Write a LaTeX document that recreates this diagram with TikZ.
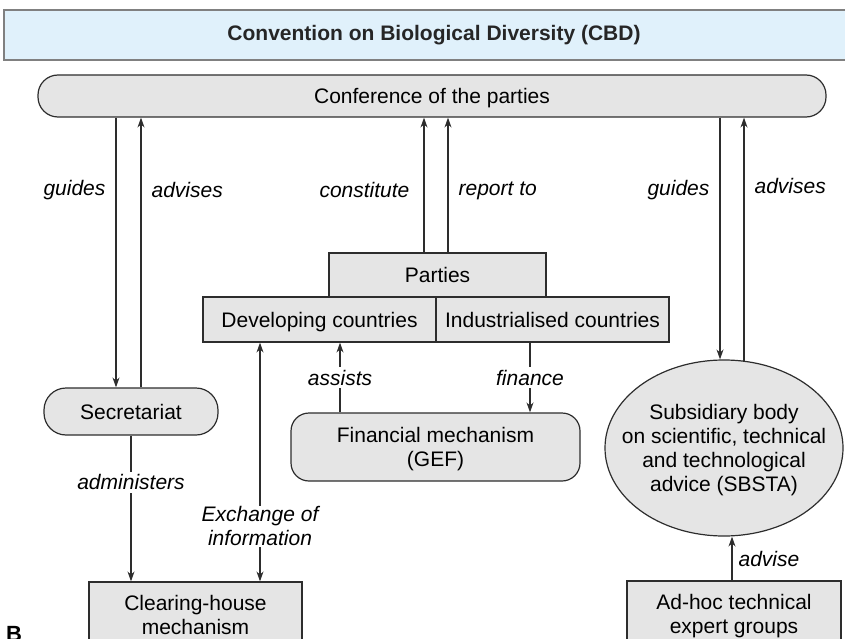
\documentclass[tikz,border=0pt]{standalone}
\usepackage{fontspec}
\setmainfont{Liberation Sans}
\usetikzlibrary{arrows.meta, shapes.geometric, positioning}
\definecolor{cbdblue}{RGB}{224, 241, 251}
\definecolor{boxgray}{RGB}{229, 229, 229}
\definecolor{edgegray}{RGB}{45, 45, 45}

\begin{document}
\begin{tikzpicture}[x=1pt, y=-1pt,
    body/.style={draw=edgegray, fill=boxgray, line width=1.2pt, align=center,
                 font=\fontsize{21}{24}\selectfont, inner sep=0pt, text depth=0pt},
    rbody/.style={body, rounded corners=20pt},
    link/.style={-{Stealth[length=10pt, width=7pt]}, line width=1.2pt, draw=edgegray},
    verb/.style={font=\fontsize{21}{24}\selectfont\itshape, inner sep=10pt},
    gapverb/.style={verb, fill=white, inner sep=3pt}]
  \useasboundingbox (0,0) rectangle (845,639);
  \clip (0,0) rectangle (845,639);

  % title bar and conference
  \node[draw=gray, fill=cbdblue, line width=1.2pt, minimum width=860pt, minimum height=50pt,
        text=black!85, font=\fontsize{21}{24}\selectfont\bfseries] (cbd) at (434,35)
        {Convention on Biological Diversity (CBD)};
  \node[rbody, minimum width=788pt, minimum height=42pt] (cop) at (432,96)
        {Conference of the parties};

  % parties
  \node[body, minimum width=217pt, minimum height=44pt] (parties) at (437.5,275) {Parties};
  \node[body, minimum width=233pt, minimum height=45pt] (dev) at (319.5,319.5)
        {Developing countries};
  \node[body, minimum width=233pt, minimum height=45pt] (ind) at (552.5,319.5)
        {Industrialised countries};

  % bodies below
  \node[rbody, minimum width=174pt, minimum height=47pt, rounded corners=22pt] (sec)
        at (131,411.5) {Secretariat};
  \node[rbody, minimum width=289pt, minimum height=68pt, rounded corners=18pt] (fin)
        at (435.5,447) {Financial mechanism\\(GEF)};
  \node[body, ellipse, inner xsep=-30pt, minimum width=238pt, minimum height=176pt] (sbsta)
        at (724,448)
        {Subsidiary body\\on scientific, technical\\and technological\\advice (SBSTA)};
  \node[body, minimum width=213pt, minimum height=66pt] (chm) at (195.5,615)
        {Clearing-house\\mechanism};
  \node[body, minimum width=214pt, minimum height=66pt] (adhoc) at (734,614)
        {Ad-hoc technical\\expert groups};
  \node[font=\fontsize{22}{24}\selectfont\bfseries, inner sep=0pt, anchor=base west]
        (panel) at (6,641) {B};

  % conference links
  \draw[link] ([xshift=-15pt]sec.north |- cop.south) --
        node[verb, left, pos=0.27] {guides} ([xshift=-15pt]sec.north);
  \draw[link] ([xshift=10pt]sec.north) --
        node[verb, right, pos=0.73] {advises} ([xshift=10pt]sec.north |- cop.south);
  \draw[link] ([xshift=-13.5pt]parties.north) --
        node[verb, left, pos=0.46, inner sep=14pt] {constitute}
        ([xshift=-13.5pt]parties.north |- cop.south);
  \draw[link] ([xshift=10.5pt]parties.north) --
        node[verb, right, pos=0.46] {report to} ([xshift=10.5pt]parties.north |- cop.south);
  \draw[link] ([xshift=-4pt]sbsta.north |- cop.south) --
        node[verb, left, pos=0.3] {guides} ([xshift=-4pt]sbsta.north);
  \draw[link] ([xshift=20pt, yshift=-2pt]sbsta.north) --
        node[verb, right, pos=0.72] {advises} ([xshift=20pt]sbsta.north |- cop.south);

  % links below the parties
  \draw[link] ([xshift=-95.5pt]fin.north) --
        node[gapverb, pos=0.5] {assists} ([xshift=-95.5pt]fin.north |- dev.south);
  \draw[link] ([xshift=-22.5pt]ind.south) --
        node[gapverb, pos=0.5] {finance} ([xshift=-22.5pt]ind.south |- fin.north);
  \draw[link] (sec.south) -- node[gapverb, pos=0.32] {administers} (sec.south |- chm.north);
  \draw[{Stealth[length=10pt, width=7pt]}-{Stealth[length=10pt, width=7pt]},
        line width=1.2pt, draw=edgegray]
        ([xshift=-59.5pt]dev.south) --
        node[gapverb, pos=0.77, align=center, inner sep=1pt] {Exchange of\\information}
        ([xshift=-59.5pt]dev.south |- chm.north);
  \draw[link] ([xshift=-2pt]adhoc.north) --
        node[verb, right, pos=0.5, inner sep=6pt] {advise} ([xshift=-2pt]adhoc.north |- sbsta.south);
\end{tikzpicture}
\end{document}
